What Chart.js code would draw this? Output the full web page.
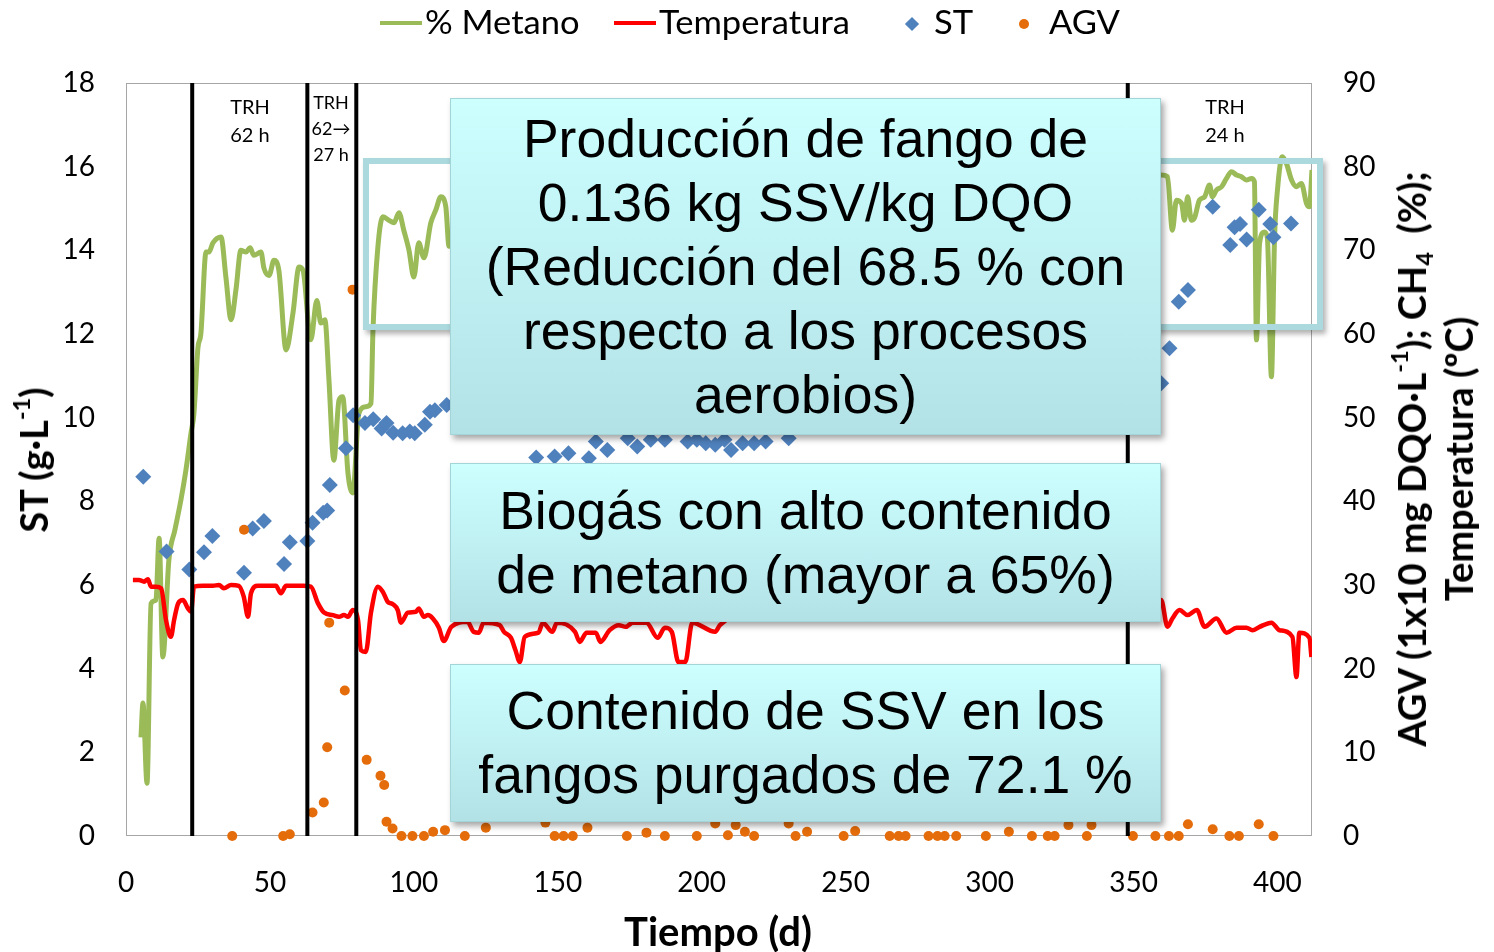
<!DOCTYPE html>
<html lang="es">
<head>
<meta charset="utf-8">
<title>Metano, temperatura, ST y AGV</title>
<script src="https://cdn.jsdelivr.net/npm/chart.js@4.4.1/dist/chart.umd.min.js"></script>
<style>
  body { margin: 0; background: #fff; }
  #lienzo { position: relative; width: 1494px; height: 952px; overflow: hidden; font-family: Lato, 'Open Sans', sans-serif; color: #000; }
  #grafico { position: absolute; left: 0; top: 0; }
  .capa { position: absolute; white-space: nowrap; }
  sup, sub { font-size: 0.62em; line-height: 0; }
  sup { vertical-align: 0.75em; }
  sub { vertical-align: -0.3em; }
  .texto-leyenda { top: 0; font-size: 32px; line-height: 44px; transform: scaleX(1.08); transform-origin: left center; }
  .muestra { position: absolute; }
  .trh { text-align: center; transform: translateX(-50%); }
  .titulo { font-weight: bold; font-size: 38px; text-align: center; transform: translate(-50%, -50%) rotate(-90deg); }
  .marco { position: absolute; left: 363px; top: 158px; width: 960px; height: 172px; box-sizing: border-box;
           border: 6px solid #abd9dd; box-shadow: 3px 4px 5px rgba(0,0,0,.3); }
  .caja { position: absolute; left: 450px; width: 711px; box-sizing: border-box; border: 1px solid #a3d4d8;
          background: linear-gradient(#cdffff, #b3e2e6); box-shadow: 3px 4px 6px rgba(0,0,0,.35);
          font-family: 'Liberation Sans', Arial, sans-serif; font-size: 53.5px; line-height: 64px; text-align: center;
          display: flex; align-items: center; justify-content: center; }
</style>
</head>
<body>
<div id="lienzo">
  <canvas id="grafico" width="1494" height="952"></canvas>

  <!-- leyenda -->
  <div class="muestra" style="left:380px;top:21px;width:42px;height:4px;background:#9bbb59"></div>
  <div class="capa texto-leyenda" style="left:425px">% Metano</div>
  <div class="muestra" style="left:614px;top:21px;width:42px;height:4px;background:#ff0000"></div>
  <div class="capa texto-leyenda" style="left:659px">Temperatura</div>
  <div class="muestra" style="left:907px;top:19px;width:10px;height:10px;background:#4f81bd;transform:rotate(45deg)"></div>
  <div class="capa texto-leyenda" style="left:934px">ST</div>
  <div class="muestra" style="left:1019px;top:19px;width:10px;height:10px;border-radius:50%;background:#e46c0a"></div>
  <div class="capa texto-leyenda" style="left:1049px">AGV</div>

  <!-- periodos de TRH -->
  <div class="capa trh" style="left:250px;top:92px;font-size:20px;line-height:28px">TRH<br>62 h</div>
  <div class="capa trh" style="left:331px;top:89px;font-size:18px;line-height:26px">TRH<br>62→<br>27 h</div>
  <div class="capa trh" style="left:1225px;top:92px;font-size:20px;line-height:28px">TRH<br>24 h</div>

  <!-- títulos de ejes -->
  <div class="capa titulo" style="left:33px;top:460px">ST (g·L<sup>-1</sup>)</div>
  <div class="capa titulo" style="left:718px;top:931px;font-size:40px;transform:translate(-50%,-50%)">Tiempo (d)</div>
  <div class="capa titulo" style="left:1435px;top:459px;line-height:47px">AGV (1x10 mg DQO·L<sup>-1</sup>); CH<sub>4</sub>&nbsp; (%);<br>Temperatura (ºC)</div>

  <!-- recuadros -->
  <div class="marco"></div>
  <div class="caja" style="top:98px;height:337px">Producción de fango de<br>0.136 kg SSV/kg DQO<br>(Reducción del 68.5 % con<br>respecto a los procesos<br>aerobios)</div>
  <div class="caja" style="top:463px;height:159px">Biogás con alto contenido<br>de metano (mayor a 65%)</div>
  <div class="caja" style="top:664px;height:158px">Contenido de SSV en los<br>fangos purgados de 72.1 %</div>
</div>

<script>
// Ejes
const ticksX = [0, 50, 100, 150, 200, 250, 300, 350, 400];
const ticksST = [0, 2, 4, 6, 8, 10, 12, 14, 16, 18];
const ticksDer = [0, 10, 20, 30, 40, 50, 60, 70, 80, 90];

// Cambios de TRH (d)
const diasTRH = [23, 63, 80, 348];

// % Metano (eje derecho)
const metanoDias = [5.2, 5.9, 7.3, 8.7, 10.4, 11.5, 12.8, 14.9, 17, 19.1, 20.8, 22.6, 23.6, 25, 26, 27.8, 28.8, 30.2,
  33, 34.7, 36.5, 38.2, 39.9, 41.7, 43.1, 44.4, 46.9, 47.9, 49.7, 51.4, 53.1, 55.6, 58, 60.1, 61.5, 64.2, 66.3,
  67.7, 69.1, 70.5, 72.2, 74, 75.3, 77.1, 78.8, 80.9, 83.3, 85.1, 85.8, 87.5, 89.2, 91.3, 93.1, 94.8, 96.5, 98.3,
  100, 101.7, 103.5, 105.9, 107.6, 109.4, 111.1, 112.2,
  125, 150, 175, 200, 225, 250, 275, 300, 325, 350,
  359.7, 361.8, 363.5, 364.9, 366.7, 367.7, 368.8, 370.1, 371.2, 372.9, 374.7, 376.4, 377.4, 378.8, 380.6, 382.3,
  384, 385.8, 387.5, 389.2, 391, 392, 392.7, 393.8, 395.5, 396.5, 397.9, 399, 400, 401.7, 403.1, 404.9, 406.6,
  408.3, 410.1, 411.1, 412];
const metanoPct = [11.8, 15.9, 6.3, 27.8, 28.2, 35.6, 21.4, 33, 36.6, 40.2, 43.7, 48.2, 50.5, 58.4, 60, 69.8, 69.8, 70.9,
  71.6, 66.8, 61.7, 65.3, 70, 69.8, 70.3, 69.4, 69.8, 67.9, 67, 68.8, 67.6, 58.1, 62.5, 68, 67.6, 59.3, 64,
  61.3, 61.7, 54.5, 44.9, 52.1, 52.5, 43.4, 41, 50.5, 51.3, 51.7, 60.5, 70.4, 74, 73.6, 73.3, 74.5, 72.4, 70,
  66.8, 70.9, 69.1, 73.3, 74.8, 76.4, 75.2, 70.5,
  74.5, 75.5, 74, 76, 75, 74.5, 76, 75.5, 74.5, 77,
  79, 78.8, 72.4, 76, 75.6, 73.6, 76.4, 73.6, 73.9, 76, 76.4, 77.8, 76.4, 77.2, 77.6, 78.6,
  79.4, 79, 78.8, 78.4, 78.6, 78.2, 59.3, 70.9, 72.2, 71.5, 54.9, 71.6, 77.2, 81.2, 80.4, 78.4, 77.6,
  78, 75.6, 75.2, 79.6];

// Temperatura (ºC, eje derecho)
const tempDias = [2.4, 4.5, 6.3, 7.6, 8.7, 10.4, 12.2, 13.9, 15.6, 16.7, 18.1, 19.8, 21.5, 22.6, 23.6, 26.7, 30.2,
  32.3, 34, 36.5, 39.2, 40.9, 42.4, 43.4, 45.8, 52.1, 53.8, 55.6, 61.5, 64.2, 66.7, 68.8, 71.9, 74, 75.7, 77.1,
  78.8, 80.6, 81.6, 83.3, 85.1, 87.5, 89.2, 90.9, 92.7, 94.4, 95.5, 97.9, 100.7, 101.7, 103.5, 104.9, 106.6,
  108.7, 110.4, 113, 118.6, 120.8, 122.6, 124.2, 129.8, 131.3, 133.7, 135.3, 136.8, 138.5, 143.3, 144.8, 148.1,
  149.7, 156, 157.6, 160, 163.2, 164.8, 168, 171.2, 173.6, 176, 180.8, 184.7, 187.2, 189.6, 191.9, 194.3, 196.7,
  204.7, 206.3, 215, 230, 250, 270, 290, 302, 320, 340, 355,
  359.6, 361.8, 363.5, 366, 368.8, 372, 374.7, 378.8, 382.3, 385.8, 389.2, 391.3, 393.8, 397.9, 400.7, 405.2,
  406.6, 407.6, 411.1, 411.8];
const tempGrados = [30.6, 30.6, 30.4, 30.7, 29.8, 29.8, 29.6, 25.8, 23.8, 25.8, 27.8, 28.2, 27.2, 26.8, 29.8, 29.9, 29.9,
  30, 29.6, 30, 29.9, 28.6, 26.2, 29, 29.9, 29.9, 29, 29.9, 29.9, 29.8, 27.8, 26.7, 26.4, 26.2, 26.4, 26.2,
  27, 25.8, 22.2, 22, 26.7, 29.8, 29.2, 28, 27.7, 27, 25.5, 26.7, 26.8, 27.2, 26.2, 26.4, 26,
  24.9, 23.3, 25, 25.6, 24.4, 24.3, 25.5, 25.2, 24.4, 23.7, 22.2, 20.8, 23.8, 24.3, 25.5, 24.4,
  25.5, 24.4, 23.2, 24.3, 24.3, 23.2, 24.6, 25.2, 25, 25.5, 25.5, 23.7, 24.9, 24.4, 20.8, 20.8, 25.5,
  24.4, 25.2, 26.6, 26.4, 26.5, 26.4, 26.6, 26.2, 26.8, 26.9, 27.5,
  28.2, 25, 26, 27, 26.4, 27, 25, 26, 24.3, 24.9, 24.9, 24.6, 25, 25.5, 24.6, 23.8,
  19, 24.3, 23.7, 21.4];

// ST (g/L, eje izquierdo)
const stDias = [6, 14.1, 22, 27.1, 30, 41, 44, 47.9, 54.9, 56.9, 63, 64.8, 68.5, 69.9, 70.8, 76.4, 78.9, 83, 85.9,
  88.8, 90.5, 92.8, 96.1, 98.6, 100.3, 103.8, 105.6, 107.3, 111.4, 142.5, 148.9, 153.7, 160.8, 163.2, 167.2,
  174.3, 177.6, 182.3, 187.2, 195.1, 198.3, 201.4, 204.7, 207.9, 210.2, 214.2, 218.2, 222.2, 230.2,
  359.6, 362.5, 365.7, 368.9, 377.5, 383.6, 385.1, 387, 389.3, 393.5, 397.5, 398.6, 404.7];
const stValores = [8.59, 6.8, 6.37, 6.78, 7.17, 6.29, 7.35, 7.53, 6.5, 7.02, 7.05, 7.49, 7.73, 7.78, 8.39, 9.27, 10.06, 9.87, 9.96,
  9.74, 9.87, 9.64, 9.63, 9.67, 9.63, 9.83, 10.14, 10.18, 10.3, 9.05, 9.07, 9.15, 9.03, 9.43, 9.23,
  9.51, 9.31, 9.47, 9.47, 9.43, 9.47, 9.39, 9.35, 9.47, 9.23, 9.39, 9.39, 9.43, 9.51,
  10.82, 11.66, 12.77, 13.05, 15.04, 14.13, 14.55, 14.63, 14.26, 14.97, 14.63, 14.31, 14.64];

// AGV (x10 mg DQO/L, eje derecho)
const agvDias = [36.9, 41, 54.6, 56.9, 64.8, 68.7, 69.9, 70.6, 76, 78.7, 83.6, 88.4, 89.7, 90.5, 92.6, 95.7, 99.5,
  103.5, 106.7, 110.8, 117.7, 125, 145.7, 148.9, 152, 155.2, 160.3, 174, 180.8, 187.2, 198.3, 204.7, 209.1,
  211.8, 215, 218.2, 230.2, 232.6, 236.6, 249.3, 253.3, 265.3, 268.4, 270.8, 278.8, 281.9, 284.4, 288.4, 298.7,
  306.7, 314.7, 320.2, 322.6, 327.4, 333.8, 335.4, 349.8, 357.6, 362.3, 365.7, 368.9, 377.5, 383.3, 386.6,
  393.5, 398.6];
const agvValores = [0, 36.6, 0, 0.2, 2.8, 4, 10.6, 25.5, 17.4, 65.3, 9.1, 7.2, 6.1, 1.7, 0.9, 0, 0,
  0, 0.5, 0.7, 0, 1, 1.6, 0, 0, 0, 1, 0, 0.4, 0, 0, 1.5, 0.1,
  1.3, 0.5, 0, 1.5, 0, 0.5, 0, 0.6, 0, 0, 0, 0, 0, 0, 0, 0,
  0.5, 0, 0, 0, 1.3, 0, 1.3, 0, 0, 0, 0, 1.4, 0.8, 0, 0,
  1.4, 0];

const puntos = (xs, ys) => xs.map((x, i) => ({ x: x, y: ys[i] }));
const fijarTicks = lista => scale => { scale.ticks = lista.map(v => ({ value: v })); };
const fuenteTicks = { family: 'Lato', size: 28 };

// marco del área de trazado y líneas verticales de cambio de TRH
const marcoYLineas = {
  id: 'marcoYLineas',
  beforeDatasetsDraw(chart) {
    const { ctx, chartArea: a } = chart;
    ctx.save();
    ctx.strokeStyle = '#a6a6a6';
    ctx.lineWidth = 1;
    ctx.strokeRect(a.left + 0.5, a.top + 0.5, a.width - 1, a.height - 1);
    ctx.restore();
  },
  afterDatasetsDraw(chart) {
    const { ctx, chartArea: a, scales } = chart;
    ctx.save();
    ctx.strokeStyle = '#000';
    ctx.lineWidth = 4;
    diasTRH.forEach(d => {
      const px = scales.x.getPixelForValue(d);
      ctx.beginPath();
      ctx.moveTo(px, a.top);
      ctx.lineTo(px, a.bottom);
      ctx.stroke();
    });
    ctx.restore();
  }
};

const ctx = document.getElementById('grafico').getContext('2d');
new Chart(ctx, {
  type: 'scatter',
  data: {
    datasets: [
      {
        label: '% Metano',
        data: puntos(metanoDias, metanoPct),
        yAxisID: 'y1',
        showLine: true,
        borderColor: '#9bbb59',
        borderWidth: 5,
        pointRadius: 0,
        cubicInterpolationMode: 'monotone',
        borderJoinStyle: 'round',
        order: 4
      },
      {
        label: 'Temperatura',
        data: puntos(tempDias, tempGrados),
        yAxisID: 'y1',
        showLine: true,
        borderColor: '#ff0000',
        borderWidth: 4.5,
        pointRadius: 0,
        cubicInterpolationMode: 'monotone',
        borderJoinStyle: 'round',
        order: 3
      },
      {
        label: 'ST',
        data: puntos(stDias, stValores),
        yAxisID: 'y',
        pointStyle: 'rectRot',
        pointRadius: 8,
        backgroundColor: '#4f81bd',
        borderWidth: 0,
        clip: false,
        order: 2
      },
      {
        label: 'AGV',
        data: puntos(agvDias, agvValores),
        yAxisID: 'y1',
        pointStyle: 'circle',
        pointRadius: 5,
        backgroundColor: '#e46c0a',
        borderWidth: 0,
        clip: false,
        order: 1
      }
    ]
  },
  options: {
    responsive: false,
    animation: false,
    layout: { padding: { top: 83, left: 0, right: 0, bottom: 0 } },
    plugins: {
      legend: { display: false },
      tooltip: { enabled: false }
    },
    scales: {
      x: {
        type: 'linear',
        min: 0,
        max: 412,
        afterBuildTicks: fijarTicks(ticksX),
        afterFit: s => { s.height = 116; },
        grid: { display: false, drawTicks: false },
        border: { display: false },
        ticks: { padding: 30, color: '#000', font: fuenteTicks, maxRotation: 0 }
      },
      y: {
        position: 'left',
        min: 0,
        max: 18,
        afterBuildTicks: fijarTicks(ticksST),
        afterFit: s => { s.width = 126; },
        grid: { display: false, drawTicks: false },
        border: { display: false },
        ticks: { padding: 31, color: '#000', font: fuenteTicks }
      },
      y1: {
        position: 'right',
        min: 0,
        max: 90,
        afterBuildTicks: fijarTicks(ticksDer),
        afterFit: s => { s.width = 182; },
        grid: { display: false, drawTicks: false },
        border: { display: false },
        ticks: { padding: 31, color: '#000', font: fuenteTicks }
      }
    }
  },
  plugins: [marcoYLineas]
});
</script>
</body>
</html>
